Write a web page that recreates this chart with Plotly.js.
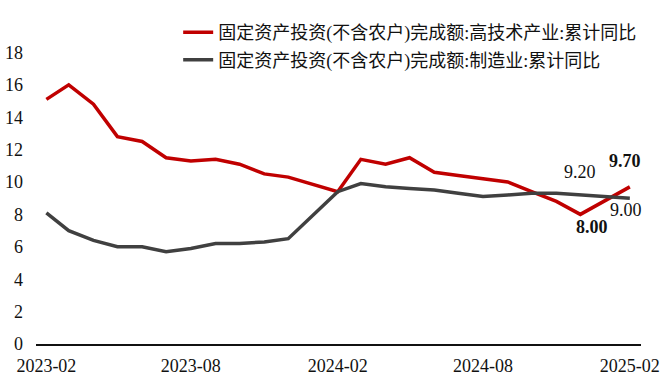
<!DOCTYPE html>
<html>
<head>
<meta charset="utf-8">
<script src="https://cdn.plot.ly/plotly-3.0.1.min.js"></script>
<style>html,body{margin:0;padding:0;background:#fff}#chart{width:665px;height:383px}</style>
</head>
<body>
<div id="chart"></div>
<script>
const months = ['2023-02-01','2023-03-01','2023-04-01','2023-05-01','2023-06-01','2023-07-01','2023-08-01','2023-09-01','2023-10-01','2023-11-01','2023-12-01',
  '2024-02-01','2024-03-01','2024-04-01','2024-05-01','2024-06-01','2024-07-01','2024-08-01','2024-09-01','2024-10-01','2024-11-01','2024-12-01',
  '2025-02-01'];
const highTech = [15.1,16.0,14.8,12.8,12.5,11.5,11.3,11.4,11.1,10.5,10.3,
  9.4,11.4,11.1,11.5,10.6,10.4,10.2,10.0,9.4,8.8,8.0,
  9.7];
const manufacturing = [8.1,7.0,6.4,6.0,6.0,5.7,5.9,6.2,6.2,6.3,6.5,
  9.4,9.9,9.7,9.6,9.5,9.3,9.1,9.2,9.3,9.3,9.2,
  9.0];
const seriesNames = ['固定资产投资(不含农户)完成额:高技术产业:累计同比','固定资产投资(不含农户)完成额:制造业:累计同比'];
const tickDates = ['2023-02-01','2023-08-01','2024-02-01','2024-08-01','2025-02-01'];
const tickLabels = ['2023-02','2023-08','2024-02','2024-08','2025-02'];
const yTicks = [0,2,4,6,8,10,12,14,16,18];

const serif = 'Liberation Serif';
const legendFont = 'Liberation Serif, Noto Sans CJK SC';

const traces = [
  {x: months, y: highTech, type:'scatter', mode:'lines', name: seriesNames[0], legendgroup:'a',
   line:{color:'#C00000', width:3.5}},
  {x: months, y: manufacturing, type:'scatter', mode:'lines', name: seriesNames[1], legendgroup:'b',
   line:{color:'#404040', width:3.5}}
];

const n = months.length;
const annotations = [
  {x: months[n-2], y: manufacturing[n-2], text: manufacturing[n-2].toFixed(2), showarrow:false, xshift:0, yshift:23, font:{family:serif, size:18, color:'#111'}},
  {x: months[n-2], y: highTech[n-2], text: '<b>'+highTech[n-2].toFixed(2)+'</b>', showarrow:false, xshift:12, yshift:-13, font:{family:serif, size:18, color:'#111'}},
  {x: months[n-1], y: highTech[n-1], text: '<b>'+highTech[n-1].toFixed(2)+'</b>', showarrow:false, xshift:-5, yshift:26, font:{family:serif, size:18, color:'#111'}},
  {x: months[n-1], y: manufacturing[n-1], text: manufacturing[n-1].toFixed(2), showarrow:false, xshift:-4, yshift:-12, font:{family:serif, size:18, color:'#111'}}
];

const layout = {
  width:665, height:383,
  margin:{l:36, r:24, t:20, b:39},
  paper_bgcolor:'#fff', plot_bgcolor:'#fff',
  showlegend:true,
  legend:{x:0.235, y:1.018, xanchor:'left', yanchor:'top', bgcolor:'rgba(0,0,0,0)',
    font:{family:legendFont, size:18, color:'#111'}, traceorder:'grouped', tracegroupgap:1},
  xaxis:{type:'date', range:['2023-01-19','2025-02-15'], tickvals:tickDates, ticktext:tickLabels,
    showgrid:false, zeroline:false, showline:true, linecolor:'#111', linewidth:1.5, ticks:'',
    ticklabelstandoff:5,
    tickfont:{family:serif, size:18, color:'#111'}},
  yaxis:{range:[0,20], tickvals:yTicks, showgrid:false, zeroline:false, showline:false, ticks:'',
    ticklabelstandoff:12,
    tickfont:{family:serif, size:18, color:'#111'}},
  annotations: annotations
};

Plotly.newPlot('chart', traces, layout, {displayModeBar:false, staticPlot:true});
</script>
</body>
</html>
